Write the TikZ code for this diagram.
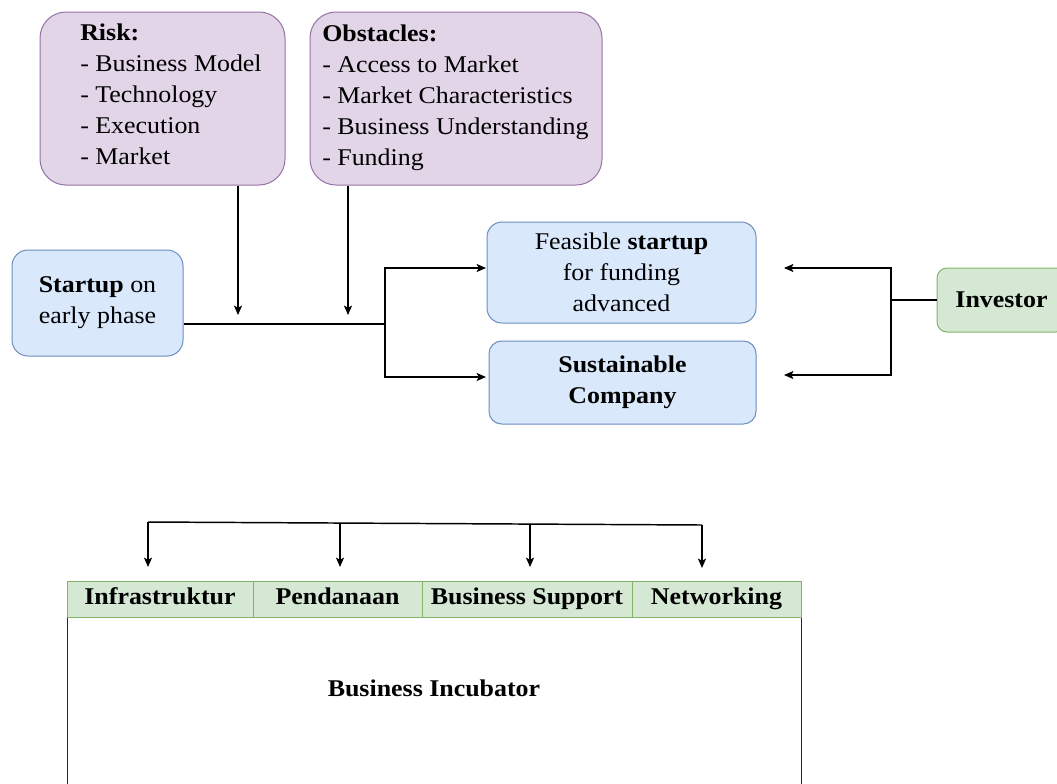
\documentclass[tikz,border=0pt]{standalone}
\usepackage{fontspec}
\setmainfont{Liberation Serif}[FakeStretch=1.08]
\usetikzlibrary{arrows.meta}

\definecolor{purpleFill}{HTML}{E1D5E7}
\definecolor{purpleLine}{HTML}{9673A6}
\definecolor{blueFill}{HTML}{DAE8FC}
\definecolor{blueLine}{HTML}{6C8EBF}
\definecolor{greenFill}{HTML}{D5E8D4}
\definecolor{greenLine}{HTML}{82B366}

\begin{document}
\begin{tikzpicture}[
  x=0.75pt, y=-0.75pt,
  txt/.style={font=\fontsize{18}{23.25}\selectfont, inner sep=0pt},
  listtext/.style={txt, align=left, anchor=west},
  purplebox/.style={draw=purpleLine, fill=purpleFill, line width=0.75pt, rounded corners=19.5pt},
  bluebox/.style={draw=blueLine, fill=blueFill, line width=0.75pt, txt, align=center},
  greenbox/.style={draw=greenLine, fill=greenFill, line width=0.75pt, txt, align=center},
  headcell/.style={greenbox, minimum height=27pt, text height=12.5pt, text depth=4pt,
    font=\fontsize{18}{23.25}\selectfont\bfseries},
  link/.style={draw=black, line width=1.1pt},
  arr/.style={link, -{Stealth[length=7pt, width=6pt, inset=1.5pt]}}
]
\useasboundingbox (0,0) rectangle (1057,783);
\clip (0,0) rectangle (1057,783);

% risk and obstacle boxes
\node[purplebox, minimum width=183.75pt, minimum height=129.75pt] (risk) at (162.5,98.5) {};
\node[listtext] (risktext) at (80,94) {\textbf{Risk:}\\- Business Model\\- Technology\\- Execution\\- Market};

\node[purplebox, minimum width=219pt, minimum height=129.75pt] (obst) at (456,98.5) {};
\node[listtext] (obsttext) at (322,98) {\textbf{Obstacles:}\\- Access to Market\\- Market Characteristics\\- Business Understanding\\- Funding};

% stages
\node[bluebox, rounded corners=12pt, minimum width=128.25pt, minimum height=79.5pt] (start) at (97.5,303)
  {\textbf{Startup} on\\early phase};
\node[bluebox, rounded corners=11.25pt, minimum width=201.75pt, minimum height=75.75pt] (feas) at (621.5,272.5)
  {Feasible \textbf{startup}\\for funding\\advanced};
\node[bluebox, rounded corners=9.5pt, minimum width=200.25pt, minimum height=62.25pt, font=\fontsize{18}{23.25}\selectfont\bfseries] (sust) at (622.5,382.5)
  {Sustainable\\Company};
\node[greenbox, rounded corners=7.5pt, minimum width=96.75pt, minimum height=48pt, font=\fontsize{18}{23.25}\selectfont\bfseries] (inv) at (1001.5,300)
  {Investor};

% main flow
\coordinate (split) at (385,324);
\coordinate (riskdrop) at (238,315);
\coordinate (obstdrop) at (348,315);
\coordinate (feasin) at (486,268);
\coordinate (sustin) at (486,377);
\draw[link] (start.east |- split) -- (split);
\draw[arr] (risk.south -| riskdrop) -- (riskdrop);
\draw[arr] (obst.south -| obstdrop) -- (obstdrop);
\draw[arr] (split) |- (feasin);
\draw[arr] (split) |- (sustin);

% investor links
\coordinate (ibar) at (891,300);
\coordinate (feasback) at (784,268);
\coordinate (sustback) at (784,375);
\draw[link] (inv.west) -- (ibar);
\draw[arr] (ibar) |- (feasback);
\draw[arr] (ibar) |- (sustback);

% business incubator
\node[draw=black!85, line width=0.75pt, fill=white, minimum width=550.5pt, minimum height=144.75pt, inner sep=0pt] (incub) at (434,713.5) {};
\node[txt, font=\fontsize{18}{23.25}\selectfont\bfseries] (incubtext) at (434,688) {Business Incubator};

\node[headcell, minimum width=139.5pt] (infra) at (160,599) {Infrastruktur};
\node[headcell, minimum width=126.75pt] (dana) at (337.5,599) {Pendanaan};
\node[headcell, minimum width=157.5pt] (support) at (527,599) {Business Support};
\node[headcell, minimum width=126.75pt] (net) at (716.5,599) {Networking};

% service distribution bar
\coordinate (bar1) at (148,522);
\coordinate (bar2) at (340,522.5);
\coordinate (bar3) at (530,523.5);
\coordinate (bar4) at (702,525);
\coordinate (tip1) at (148,567);
\coordinate (tip2) at (340,567);
\coordinate (tip3) at (530,567);
\coordinate (tip4) at (702,568);
\draw[link] (bar1) -- (bar4);
\draw[arr] (bar1) -- (tip1);
\draw[arr] (bar2) -- (tip2);
\draw[arr] (bar3) -- (tip3);
\draw[arr] (bar4) -- (tip4);
\end{tikzpicture}
\end{document}
